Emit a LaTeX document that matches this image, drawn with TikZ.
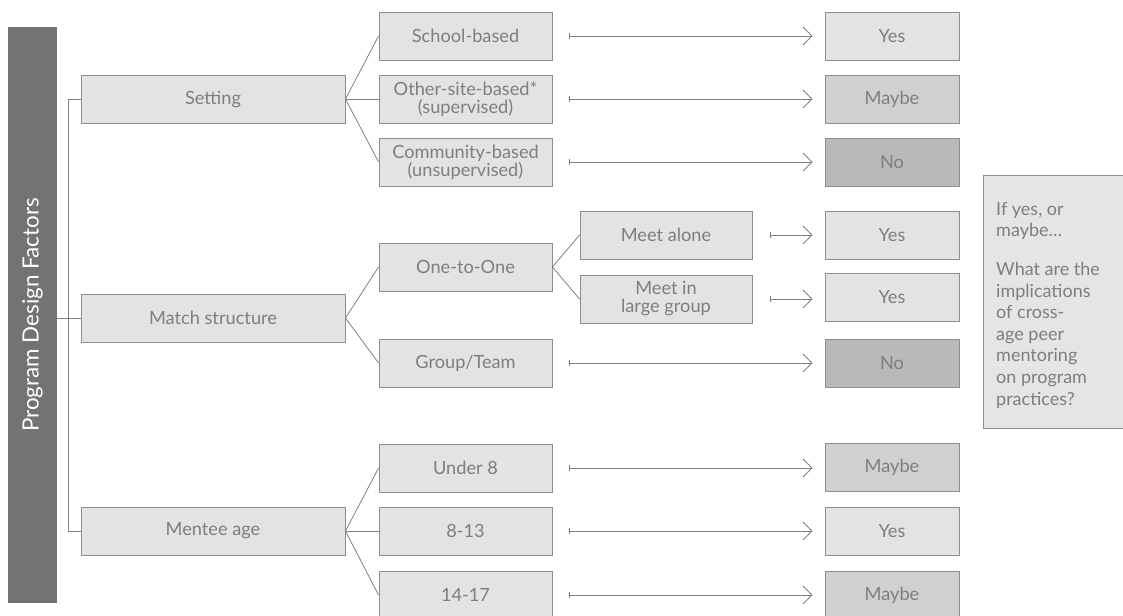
\documentclass[tikz,border=0pt]{standalone}
\usepackage{fontspec}
\setmainfont{Lato}
\usetikzlibrary{arrows.meta,calc}
\definecolor{boxfill}{HTML}{E3E3E3}
\definecolor{maybefill}{HTML}{D0D0D0}
\definecolor{nofill}{HTML}{B9B9B9}
\definecolor{boxline}{HTML}{8E8E8E}
\definecolor{linecol}{HTML}{808080}
\definecolor{txt}{HTML}{7E7E7E}
\definecolor{barfill}{HTML}{737373}
\definecolor{notefill}{HTML}{E5E5E5}
\begin{document}
\begin{tikzpicture}[x=1pt,y=-1pt,
  box/.style={draw=boxline, fill=boxfill, line width=0.9pt, minimum height=48pt,
    inner sep=0pt, text=txt, font=\fontsize{18.2}{18}\selectfont, align=center},
  lvlone/.style={box, minimum width=264pt},
  lvltwo/.style={box, minimum width=173pt},
  lvlthree/.style={box, minimum width=172pt},
  res/.style={box, minimum width=134pt},
  maybe/.style={res, fill=maybefill},
  nobox/.style={res, fill=nofill},
  conn/.style={draw=linecol, line width=0.8pt},
  arr/.style={draw=linecol, line width=0.9pt, {Bar[width=6pt]}-{Straight Barb[length=9pt,width=18pt]}}
]
\useasboundingbox (0,0) rectangle (1123,615);
% left bar
\node[fill=barfill, minimum width=576pt, minimum height=49pt, inner sep=0pt, rotate=90,
  text=white, font=\fontsize{22.4}{24}\selectfont] (bar) at (32.5,315) {Program Design Factors};
% level one
\node[lvlone] (setting) at (213,99) {Setting};
\node[lvlone] (match) at (213,318) {Match structure};
\node[lvlone] (mentee) at (213,531) {Mentee age};
% level two
\node[lvltwo] (school) at (465.5,36) {School-based};
\node[lvltwo] (other) at (465.5,99) {Other-site-based*\\(supervised)};
\node[lvltwo] (community) at (465.5,162) {Community-based\\(unsupervised)};
\node[lvltwo] (one) at (465.5,267) {One-to-One};
\node[lvltwo] (group) at (465.5,363) {Group/Team};
\node[lvltwo] (under) at (465.5,468) {Under 8};
\node[lvltwo] (mid) at (465.5,531) {8-13};
\node[lvltwo] (teen) at (465.5,595) {14-17};
% level three
\node[lvlthree] (alone) at (666,235) {Meet alone};
\node[lvlthree] (large) at (666,299) {Meet in\\large group};
% results
\node[res] (r1) at (892,36) {Yes};
\node[maybe] (r2) at (892,99) {Maybe};
\node[nobox] (r3) at (892,162) {No};
\node[res] (r4) at (892,235) {Yes};
\node[res] (r5) at (892,297) {Yes};
\node[nobox] (r6) at (892,363) {No};
\node[maybe] (r7) at (892,467) {Maybe};
\node[res] (r8) at (892,531) {Yes};
\node[maybe] (r9) at (892,595) {Maybe};
% note box
\node[draw=boxline, fill=notefill, line width=0.9pt, minimum width=160pt, minimum height=253pt,
  anchor=north west, inner sep=0pt] (note) at (983,175) {};
\node[anchor=north west, inner sep=0pt, text=txt, align=left,
  font=\fontsize{18}{21.6}\selectfont] (notetext) at ($(note.north west)+(13,27)$)
  {If yes, or\\maybe…\\[17pt]What are the\\implications\\of cross-\\age peer\\mentoring\\on program\\practices?};
% connectors
\draw[conn] (setting.west) -- ++(-12,0) |- (mentee.west);
\draw[conn] (bar.south |- match.west) -- (match.west);
\foreach \c in {school,other,community} \draw[conn] (setting.east) -- (\c.west);
\foreach \c in {one,group} \draw[conn] (match.east) -- (\c.west);
\foreach \c in {under,mid,teen} \draw[conn] (mentee.east) -- (\c.west);
\foreach \c in {alone,large} \draw[conn] (one.east) -- (\c.west);
% arrows
\foreach \s/\r in {school/r1,other/r2,community/r3,group/r6,under/r7,mid/r8,teen/r9}
  \draw[arr] ($(\s.east)+(17,0)$) -- ($(\s.east -| \r.west)+(-12,0)$);
\foreach \s/\r in {alone/r4,large/r5}
  \draw[arr] ($(\s.east)+(18,0)$) -- ($(\s.east -| \r.west)+(-12,0)$);
\end{tikzpicture}
\end{document}
